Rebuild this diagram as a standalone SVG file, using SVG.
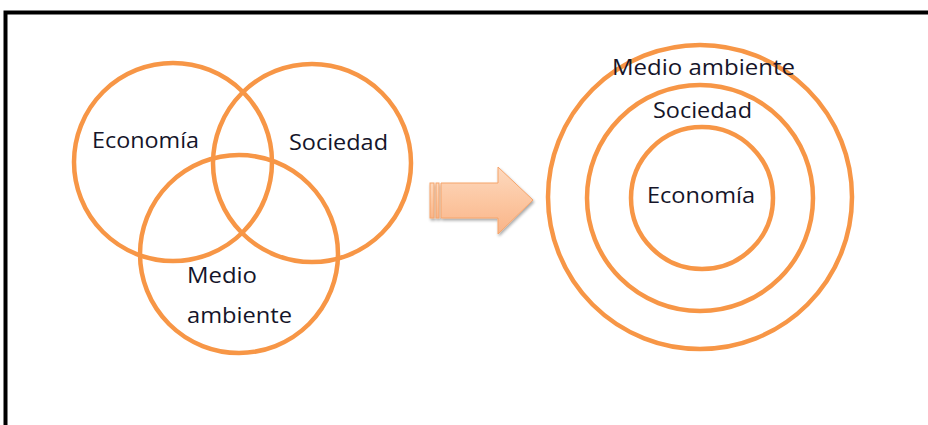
<svg xmlns="http://www.w3.org/2000/svg" width="928" height="425" viewBox="0 0 928 425">
  <defs>
    <style>
      .ring { fill: none; stroke: #f79646; stroke-width: 4.5; }
      .lbl { font-family: "Open Sans", "DejaVu Sans", sans-serif; font-size: 22.5px; fill: #15152a; }
      .frame { stroke: #000; stroke-width: 4; fill: none; }
      .arr { fill: url(#arrGrad); stroke: #f6a46b; stroke-width: 1; }
    </style>
    <linearGradient id="arrGrad" x1="0" y1="0" x2="0" y2="1">
      <stop offset="0" stop-color="#fdd9bf"/>
      <stop offset="0.5" stop-color="#fcc7a2"/>
      <stop offset="1" stop-color="#f9b488"/>
    </linearGradient>
    <filter id="shadow" x="-20%" y="-20%" width="140%" height="150%">
      <feGaussianBlur in="SourceAlpha" stdDeviation="1.5"/>
      <feOffset dx="1" dy="2" result="b"/>
      <feComponentTransfer><feFuncA type="linear" slope="0.35"/></feComponentTransfer>
      <feMerge><feMergeNode/><feMergeNode in="SourceGraphic"/></feMerge>
    </filter>
  </defs>

  <rect width="928" height="425" fill="#fff"/>
  <path class="frame" d="M5.5,425 V12.5 H928"/>

  <g id="venn">
    <g id="venn-economia">
      <circle class="ring" cx="173" cy="162" r="99"/>
      <text class="lbl" x="92" y="148" textLength="107" lengthAdjust="spacingAndGlyphs">Economía</text>
    </g>
    <g id="venn-sociedad">
      <circle class="ring" cx="312" cy="163" r="99"/>
      <text class="lbl" x="289" y="150" textLength="99" lengthAdjust="spacingAndGlyphs">Sociedad</text>
    </g>
    <g id="venn-medio">
      <circle class="ring" cx="239" cy="254" r="99"/>
      <text class="lbl" x="187" y="283" textLength="70" lengthAdjust="spacingAndGlyphs">Medio</text>
      <text class="lbl" x="187" y="323" textLength="105" lengthAdjust="spacingAndGlyphs">ambiente</text>
    </g>
  </g>

  <g id="connectors">
    <g id="arrow" filter="url(#shadow)">
      <rect class="arr" x="430" y="183" width="4" height="35"/>
      <rect class="arr" x="436" y="183" width="3" height="35"/>
      <path class="arr" d="M441,183 H498 V167 L533,200 L498,234 V218 H441 Z"/>
    </g>
  </g>

  <g id="nested">
    <g id="nested-medio">
      <circle class="ring" cx="700" cy="197" r="152"/>
      <text class="lbl" x="612" y="75" textLength="183" lengthAdjust="spacingAndGlyphs">Medio ambiente</text>
    </g>
    <g id="nested-sociedad">
      <circle class="ring" cx="700" cy="198" r="113"/>
      <text class="lbl" x="653" y="118" textLength="99" lengthAdjust="spacingAndGlyphs">Sociedad</text>
    </g>
    <g id="nested-economia">
      <circle class="ring" cx="702" cy="198" r="71"/>
      <text class="lbl" x="647" y="203" textLength="108" lengthAdjust="spacingAndGlyphs">Economía</text>
    </g>
  </g>
</svg>
